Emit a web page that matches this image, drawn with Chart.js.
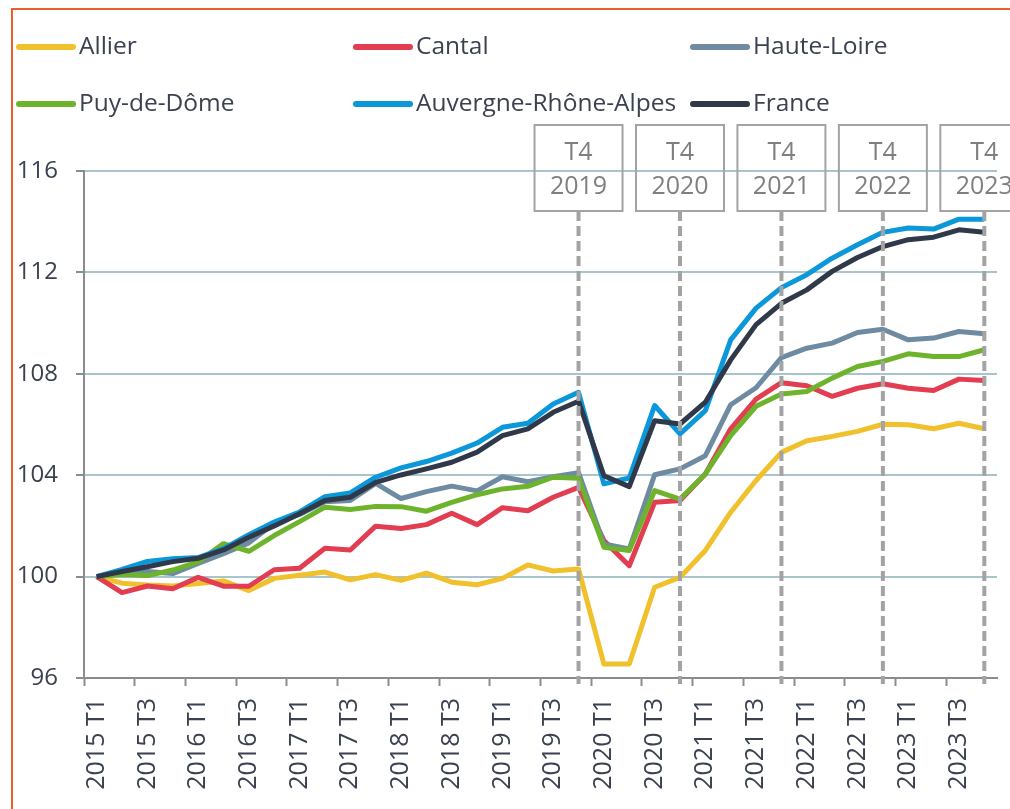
<!DOCTYPE html>
<html>
<head>
<meta charset="utf-8">
<script src="https://cdn.jsdelivr.net/npm/chart.js@4"></script>
<style>
  html, body { margin: 0; padding: 0; background: #fff; }
  #wrap { width: 1010px; height: 809px; position: relative; }
</style>
</head>
<body>
<div id="wrap"><canvas id="myChart"></canvas></div>
<script>
const quarters = [
  '2015 T1', '2015 T2', '2015 T3', '2015 T4',
  '2016 T1', '2016 T2', '2016 T3', '2016 T4',
  '2017 T1', '2017 T2', '2017 T3', '2017 T4',
  '2018 T1', '2018 T2', '2018 T3', '2018 T4',
  '2019 T1', '2019 T2', '2019 T3', '2019 T4',
  '2020 T1', '2020 T2', '2020 T3', '2020 T4',
  '2021 T1', '2021 T2', '2021 T3', '2021 T4',
  '2022 T1', '2022 T2', '2022 T3', '2022 T4',
  '2023 T1', '2023 T2', '2023 T3', '2023 T4'
];

const allier = [100, 99.74, 99.67, 99.63, 99.73, 99.83, 99.45, 99.93, 100.05, 100.18, 99.87, 100.08,
  99.85, 100.14, 99.78, 99.68, 99.93, 100.46, 100.22, 100.3, 96.55, 96.55, 99.58, 99.97,
  101.03, 102.54, 103.79, 104.9, 105.36, 105.53, 105.73, 106.01, 105.99, 105.83, 106.05, 105.83];

const cantal = [100, 99.37, 99.63, 99.52, 99.97, 99.62, 99.62, 100.27, 100.33, 101.12, 101.05, 101.99,
  101.9, 102.05, 102.5, 102.05, 102.72, 102.6, 103.13, 103.52, 101.42, 100.43, 102.93, 103.0,
  104.05, 105.83, 107.0, 107.65, 107.53, 107.11, 107.43, 107.61, 107.43, 107.34, 107.79, 107.74];

const hauteLoire = [100, 100.15, 100.2, 100.12, 100.52, 100.9, 101.33, 102.1, 102.45, 102.95, 103.0, 103.68,
  103.08, 103.35, 103.57, 103.38, 103.94, 103.74, 103.94, 104.1, 101.29, 101.09, 104.02, 104.25,
  104.77, 106.78, 107.45, 108.64, 109.01, 109.21, 109.63, 109.76, 109.34, 109.41, 109.67, 109.58];

const puyDeDome = [100, 100.08, 100.04, 100.26, 100.58, 101.3, 101.0, 101.62, 102.17, 102.74, 102.65, 102.77,
  102.76, 102.58, 102.93, 103.23, 103.46, 103.56, 103.92, 103.88, 101.16, 101.03, 103.39, 103.06,
  104.05, 105.56, 106.72, 107.2, 107.3, 107.83, 108.29, 108.49, 108.79, 108.68, 108.68, 108.95];

const auvergneRA = [100, 100.28, 100.6, 100.7, 100.75, 101.1, 101.65, 102.15, 102.55, 103.15, 103.3, 103.92,
  104.29, 104.54, 104.87, 105.27, 105.89, 106.05, 106.81, 107.27, 103.66, 103.89, 106.75, 105.63,
  106.55, 109.34, 110.59, 111.4, 111.91, 112.56, 113.09, 113.58, 113.75, 113.71, 114.1, 114.1];

const france = [100, 100.2, 100.39, 100.59, 100.72, 101.05, 101.55, 102.0, 102.48, 103.0, 103.13, 103.72,
  104.01, 104.25, 104.51, 104.91, 105.56, 105.83, 106.48, 106.92, 103.98, 103.55, 106.15, 106.02,
  106.88, 108.55, 109.94, 110.78, 111.31, 112.04, 112.59, 113.02, 113.29, 113.39, 113.68, 113.58];

const seriesNames = ['Allier', 'Cantal', 'Haute-Loire', 'Puy-de-Dôme', 'Auvergne-Rhône-Alpes', 'France'];
const seriesValues = [allier, cantal, hauteLoire, puyDeDome, auvergneRA, france];
const seriesColors = ['#F0C12C', '#E23D51', '#6F8BA2', '#6DB42C', '#0A98DA', '#2F3949'];

// quarters flagged with a dashed line and a boxed label
const markerQuarters = ['2019 T4', '2020 T4', '2021 T4', '2022 T4', '2023 T4'];

const textColor = '#3b4150';
const axisGray = '#8c8c8c';
Chart.defaults.font.family = "'Open Sans', sans-serif";

// white background, orange frame, custom two-row legend
const frameLegend = {
  id: 'frameLegend',
  beforeDraw(chart) {
    const ctx = chart.ctx;
    ctx.save();
    ctx.fillStyle = '#fff';
    ctx.fillRect(0, 0, chart.width, chart.height);
    ctx.strokeStyle = '#E8612C';
    ctx.lineWidth = 2;
    ctx.beginPath();
    ctx.moveTo(12, chart.height + 5);
    ctx.lineTo(12, 9);
    ctx.lineTo(chart.width + 5, 9);
    ctx.stroke();
    ctx.restore();
  },
  afterDraw(chart) {
    const ctx = chart.ctx;
    const colX = [19, 356, 693];
    const rowY = [47, 104];
    ctx.save();
    ctx.font = "24.5px 'Open Sans', sans-serif";
    ctx.textBaseline = 'middle';
    ctx.textAlign = 'left';
    chart.data.datasets.forEach((ds, i) => {
      const x = colX[i % 3];
      const y = rowY[Math.floor(i / 3)];
      ctx.strokeStyle = ds.borderColor;
      ctx.lineWidth = 6;
      ctx.lineCap = 'round';
      ctx.beginPath();
      ctx.moveTo(x, y);
      ctx.lineTo(x + 54, y);
      ctx.stroke();
      ctx.fillStyle = textColor;
      ctx.fillText(ds.label, x + 60, y);
    });
    ctx.restore();
  }
};

// dashed verticals + boxed quarter labels
const markers = {
  id: 'markers',
  afterDatasetsDraw(chart) {
    const ctx = chart.ctx;
    const xs = chart.scales.x;
    const area = chart.chartArea;
    const boxTop = 125, boxH = 86, boxW = 88;
    ctx.save();
    markerQuarters.forEach(q => {
      const px = xs.getPixelForValue(quarters.indexOf(q));
      const parts = q.split(' ');
      ctx.strokeStyle = '#A3A3A3';
      ctx.lineWidth = 4;
      ctx.setLineDash([10, 5]);
      ctx.beginPath();
      ctx.moveTo(px, boxTop + boxH);
      ctx.lineTo(px, area.bottom + 6);
      ctx.stroke();
      ctx.setLineDash([]);
      ctx.lineWidth = 2;
      ctx.strokeRect(px - boxW / 2, boxTop, boxW, boxH);
      ctx.fillStyle = '#7f7f7f';
      ctx.font = "25px 'Open Sans', sans-serif";
      ctx.textAlign = 'center';
      ctx.textBaseline = 'middle';
      ctx.fillText(parts[1], px, boxTop + 28);
      ctx.fillText(parts[0], px, boxTop + 62);
    });
    ctx.restore();
  }
};

const datasets = seriesNames.map((name, i) => ({
  label: name,
  data: seriesValues[i],
  borderColor: seriesColors[i],
  backgroundColor: seriesColors[i],
  borderWidth: 5,
  pointRadius: 0,
  tension: 0,
  borderJoinStyle: 'round',
  order: seriesNames.length - 1 - i
}));

const config = {
  type: 'line',
  data: { labels: quarters, datasets: datasets },
  options: {
    responsive: true,
    maintainAspectRatio: false,
    animation: false,
    layout: { padding: { top: 171, right: 13, left: 0, bottom: 0 } },
    plugins: {
      legend: { display: false },
      tooltip: { enabled: false }
    },
    scales: {
      x: {
        offset: true,
        afterFit(scale) { scale.height = 131; },
        border: { display: true, color: axisGray, width: 2 },
        grid: {
          offset: true,
          drawOnChartArea: false,
          drawTicks: true,
          tickLength: 8,
          tickWidth: 2,
          tickColor: ctx => (ctx.index % 2 === 0 ? axisGray : 'rgba(0,0,0,0)')
        },
        ticks: {
          autoSkip: false,
          minRotation: 90,
          maxRotation: 90,
          padding: 12,
          color: textColor,
          font: { size: 25, lineHeight: 0.35 },
          callback: (v, i) => (i % 2 === 0 ? quarters[i] : '')
        }
      },
      y: {
        min: 96,
        max: 116,
        afterFit(scale) { scale.width = 84; },
        border: { display: true, color: axisGray, width: 2 },
        grid: {
          color: '#A8C5CC',
          lineWidth: 2,
          drawTicks: true,
          tickLength: 8,
          tickColor: axisGray,
          tickWidth: 2
        },
        ticks: {
          stepSize: 4,
          padding: 18,
          color: textColor,
          font: { size: 24 }
        }
      }
    }
  },
  plugins: [frameLegend, markers]
};

var myChart = new Chart(document.getElementById('myChart'), config);
</script>
</body>
</html>
